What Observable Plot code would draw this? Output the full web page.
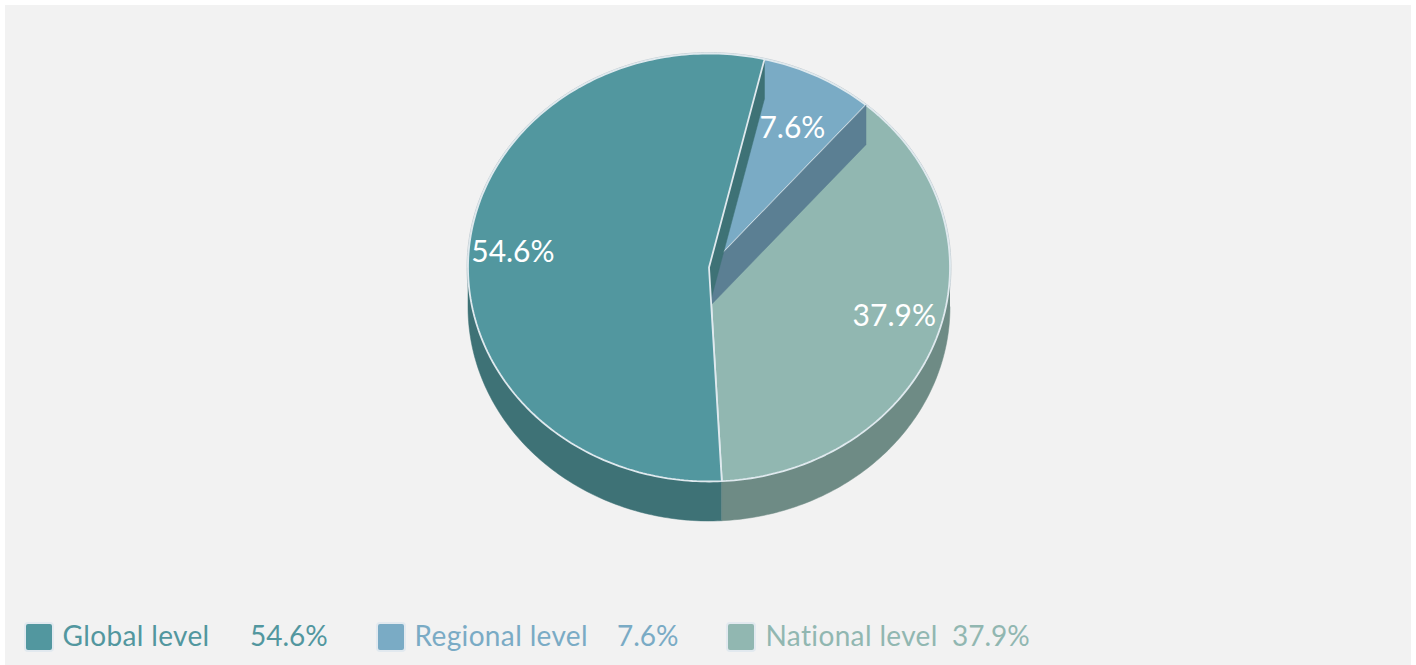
<!DOCTYPE html>
<html>
<head>
<meta charset="utf-8">
<script src="https://cdn.jsdelivr.net/npm/d3@7"></script>
<script src="https://cdn.jsdelivr.net/npm/@observablehq/plot@0.6"></script>
<style>
html,body{margin:0;padding:0;background:#fff;overflow:hidden;width:1416px;height:665px;}
#panel{position:absolute;left:5px;top:5px;width:1406px;height:660px;background:#f2f2f2;font-family:Lato,sans-serif;}
#chart{position:absolute;left:0;top:0;}
#chart svg{display:block;background:transparent;}
.sw{position:absolute;top:619px;width:26px;height:26px;border-radius:4px;box-sizing:content-box;border:2px solid #e2e9ef;margin:-2px;}
.lt{position:absolute;top:613px;font-size:28px;line-height:34px;white-space:nowrap;}
.name{letter-spacing:0.36px;}
</style>
</head>
<body>
<div id="panel"><div id="chart"></div><div id="legend"></div></div>
<script>
const categories = ["Global level", "Regional level", "National level"];
const values = [54.6, 7.6, 37.9];
const labels = ["54.6%", "7.6%", "37.9%"];
const colors = ["#52979f", "#7aabc5", "#91b7b1"];
const sideColors = ["#3e7276", "#5b7f93", "#6e8b85"];

const startDeg = 176.95;
const depth = 39.5 / 214;
const edge = "#dfe9ee";
const rim = "#c2ccd2";
const labelRadius = [0.817, 0.763, 0.812];
const labelDy = [1, 6, -7.5];
const legendLeft = [[26, 62.5, 250], [378, 414.5, 617], [728, 765.5, 952]];

const rad = d => d * Math.PI / 180;
const total = d3.sum(values);
let acc = startDeg;
const slices = values.map((v, i) => {
  const a0 = acc, a1 = acc + v / total * 360;
  acc = a1;
  return {i, a0, a1, mid: (a0 + a1) / 2};
});
const pt = (deg, r = 1, drop = 0) => ({x: r * Math.sin(rad(deg)), y: r * Math.cos(rad(deg)) - drop});
const arc = (a0, a1, drop = 0, r = 1) => {
  const n = Math.max(2, Math.ceil(Math.abs(a1 - a0)));
  return d3.range(n + 1).map(k => pt(a0 + (a1 - a0) * k / n, r, drop));
};
const face = s => [pt(0, 0), ...arc(s.a0, s.a1), pt(0, 0)];
const wall = (a0, a1) => [...arc(a0, a1), ...arc(a1, a0, depth)];
const cut = deg => [pt(0, 0), pt(deg), pt(deg, 1, depth), pt(0, 0, depth), pt(0, 0)];
const poly = (data, fill, stroke, strokeWidth = 1.8) =>
  Plot.line(data, {x: "x", y: "y", fill, stroke: stroke || fill, strokeWidth: stroke ? strokeWidth : 0.5, strokeLinejoin: "miter"});

const [gSlice, rSlice, nSlice] = slices;
const marks = [
  // faint rim behind the disc
  Plot.line(arc(0, 360, 0, 1.004), {x: "x", y: "y", stroke: rim, strokeWidth: 1}),
  // outer walls on the near half
  poly(wall(gSlice.a0, 270), sideColors[0]),
  poly(wall(90, gSlice.a0), sideColors[2]),
  // top faces and cut faces, back to front
  poly(face(nSlice), colors[2], edge),
  poly(face(rSlice), colors[1], edge),
  poly(cut(rSlice.a1), sideColors[1]),
  poly(cut(rSlice.a0), sideColors[0]),
  poly(face(gSlice), colors[0], edge),
  ...slices.map(s => {
    const p = pt(s.mid, labelRadius[s.i]);
    return Plot.text([{...p, t: labels[s.i]}], {x: "x", y: "y", text: "t", fill: "#fff", fontSize: 30, fontFamily: "Lato", dy: labelDy[s.i]});
  })
];

const svg = Plot.plot({
  width: 1406, height: 600, margin: 0,
  x: {domain: [-1, 1], range: [462.5, 944.5], axis: null},
  y: {domain: [-1, 1], range: [476, 48], axis: null},
  marks
});
document.getElementById("chart").append(svg);

const legend = document.getElementById("legend");
categories.forEach((c, i) => {
  const [a, b, d] = legendLeft[i];
  legend.insertAdjacentHTML("beforeend",
    `<div class="sw" style="left:${a - 5}px;background:${colors[i]}"></div>` +
    `<div class="lt name" style="left:${b - 5}px;color:${colors[i]}">${c}</div>` +
    `<div class="lt" style="left:${d - 5}px;color:${colors[i]}">${labels[i]}</div>`);
});
</script>
</body>
</html>
